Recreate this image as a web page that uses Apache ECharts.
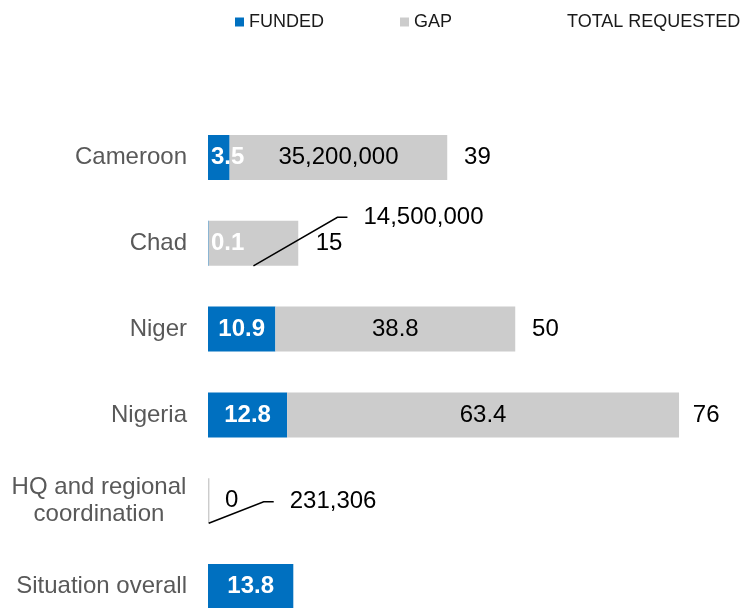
<!DOCTYPE html>
<html>
<head>
<meta charset="utf-8">
<script src="https://cdn.jsdelivr.net/npm/echarts@6/dist/echarts.min.js"></script>
<style>
html, body { margin: 0; padding: 0; background: #fff; }
#chart { width: 754px; height: 608px; }
</style>
</head>
<body>
<div id="chart"></div>
<script>
var categories = ["Cameroon", "Chad", "Niger", "Nigeria", "HQ and regional coordination", "Situation overall"];
var funded = [3.5, 0.1, 10.9, 12.8, 0, 13.8];
var gap = [35.2, 14.5, 38.8, 63.4, 0.231306, null];
var gapLabels = ["35,200,000", "14,500,000", "38.8", "63.4", "231,306", ""];
var totalRequested = [39, 15, 50, 76, null, null];

var FONT = "Liberation Sans, Arial, sans-serif";
var BLUE = "#0070C0";
var GREY = "#CCCCCC";
var HALF_BAR = 22.5;

// gap labels Excel pulled out of the bar: [label left from bar centre, vertical shift]
var leaderShift = { 1: [110, -26], 4: [81, 1] };

var fundedData = funded.map(function (v) {
  var item = { value: v };
  if (v === 0) {
    item.label = { position: "right", distance: 17, color: "#000", fontWeight: "normal" };
  } else if (v < 5) {
    item.label = { position: "insideLeft", distance: 3 };
  }
  return item;
});

// one leader line per moved label, anchored at the middle of the gap bar
var leaderData = [];
gap.forEach(function (v, i) {
  if (leaderShift[i]) leaderData.push([funded[i] + v / 2, i]);
});

var legendText = { fontSize: 18, color: "#1a1a1a", fontFamily: FONT };

var chart = echarts.init(document.getElementById("chart"));
chart.setOption({
  animation: false,
  textStyle: { fontFamily: FONT },
  legend: [
    { left: 230, top: 8, icon: "rect", itemWidth: 9, itemHeight: 9, textStyle: legendText, data: ["FUNDED"] },
    { left: 395, top: 8, icon: "rect", itemWidth: 9, itemHeight: 9, textStyle: legendText, data: ["GAP"] },
    {
      left: 548, top: 8, icon: "rect", itemWidth: 9, itemHeight: 9, textStyle: legendText,
      data: [{ name: "TOTAL REQUESTED", itemStyle: { color: "transparent" } }]
    }
  ],
  grid: { left: 208, right: 2, top: 114.6, height: 514.8, outerBoundsMode: "none" },
  xAxis: { type: "value", min: 0, max: 88, show: false },
  yAxis: {
    type: "category",
    inverse: true,
    data: categories,
    axisLine: { show: false },
    axisTick: { show: false },
    axisLabel: {
      margin: 21,
      fontSize: 24,
      color: "#595959",
      fontFamily: FONT,
      formatter: function (v) {
        var cut = v.indexOf(" coordination");
        if (cut > 0) {
          return "{c|" + v.slice(0, cut) + "}\n{c|" + v.slice(cut + 1) + "}";
        }
        return v;
      },
      rich: {
        c: { width: 176, align: "center", fontSize: 24, lineHeight: 27, color: "#595959", fontFamily: FONT }
      }
    }
  },
  series: [
    {
      name: "FUNDED",
      type: "bar",
      stack: "req",
      barWidth: 45,
      itemStyle: { color: BLUE },
      label: {
        show: true,
        position: "inside",
        color: "#fff",
        fontWeight: "bold",
        fontSize: 24,
        fontFamily: FONT,
        formatter: function (p) { return String(p.value); }
      },
      data: fundedData
    },
    {
      name: "GAP",
      type: "bar",
      stack: "req",
      barWidth: 45,
      itemStyle: { color: GREY },
      label: {
        show: true,
        position: "inside",
        color: "#000",
        fontSize: 24,
        fontFamily: FONT,
        formatter: function (p) { return gapLabels[p.dataIndex]; }
      },
      labelLayout: function (p) {
        var s = leaderShift[p.dataIndex];
        if (!s) return {};
        return {
          x: p.rect.x + p.rect.width / 2 + s[0],
          y: p.rect.y + p.rect.height / 2 + s[1],
          align: "left",
          verticalAlign: "middle"
        };
      },
      data: gap
    },
    {
      name: "TOTAL REQUESTED",
      type: "bar",
      barWidth: 45,
      barGap: "-100%",
      silent: true,
      itemStyle: { color: "transparent" },
      label: {
        show: true,
        position: "right",
        distance: 15,
        color: "#000",
        fontSize: 24,
        fontFamily: FONT
      },
      data: totalRequested
    },
    {
      name: "leader",
      type: "custom",
      silent: true,
      z: 5,
      encode: { x: 0, y: 1 },
      renderItem: function (params, api) {
        var i = api.value(1);
        var s = leaderShift[i];
        var c = api.coord([api.value(0), i]);
        return {
          type: "polyline",
          shape: {
            points: [
              [c[0], c[1] + HALF_BAR],
              [c[0] + s[0] - 26, c[1] + s[1]],
              [c[0] + s[0] - 16, c[1] + s[1]]
            ]
          },
          style: { stroke: "#000", lineWidth: 1.5, fill: null }
        };
      },
      data: leaderData
    }
  ]
});
</script>
</body>
</html>
